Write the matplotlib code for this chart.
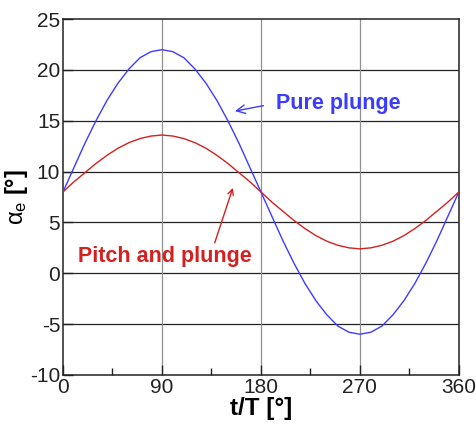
import numpy as np
import matplotlib.pyplot as plt
from matplotlib.ticker import MultipleLocator

plt.rcParams['font.family'] = ['Liberation Sans', 'DejaVu Sans']
plt.rcParams['mathtext.fontset'] = 'custom'
plt.rcParams['mathtext.rm'] = 'Liberation Sans'
plt.rcParams['mathtext.it'] = 'Liberation Sans'
plt.rcParams['axes.unicode_minus'] = False

# phase angle t/T in degrees
phase = list(range(0, 361, 10))

# effective angle of attack, pure plunge
alpha_plunge = [8.0, 10.4, 12.8, 15.0, 17.0, 18.7, 20.1, 21.2, 21.8, 22.0,
                21.8, 21.2, 20.1, 18.7, 17.0, 15.0, 12.8, 10.4, 8.0,
                5.6, 3.2, 1.0, -1.0, -2.7, -4.1, -5.2, -5.8, -6.0,
                -5.8, -5.2, -4.1, -2.7, -1.0, 1.0, 3.2, 5.6, 8.0]

# effective angle of attack, pitch and plunge
alpha_pitch = [8.0, 9.0, 9.9, 10.8, 11.6, 12.3, 12.85, 13.25, 13.5, 13.6,
               13.5, 13.25, 12.85, 12.3, 11.6, 10.8, 9.9, 9.0, 8.0,
               7.0, 6.1, 5.2, 4.4, 3.7, 3.15, 2.75, 2.5, 2.4,
               2.5, 2.75, 3.15, 3.7, 4.4, 5.2, 6.1, 7.0, 8.0]

blue = '#3c3cff'
red = '#d42020'

fig = plt.figure(figsize=(4.77, 4.26), dpi=100)
ax = fig.add_axes([0.132, 0.12, 0.830, 0.835])

for y in range(-5, 25, 5):
    ax.axhline(y, color='#222222', lw=0.9, zorder=1)
for x in [90, 180, 270]:
    ax.axvline(x, color='#909090', lw=0.9, zorder=1)

ax.plot(phase, alpha_plunge, color=blue, lw=1.0, zorder=3)
ax.plot(phase, alpha_pitch, color=red, lw=1.0, zorder=3)

ax.set_xlim(0, 360)
ax.set_ylim(-10, 25)
ax.xaxis.set_major_locator(MultipleLocator(90))
ax.xaxis.set_minor_locator(MultipleLocator(45))
ax.yaxis.set_major_locator(MultipleLocator(5))
ax.tick_params(which='both', direction='in', labelsize=15, colors='#222222')
ax.tick_params(which='major', length=7, width=1)
ax.tick_params(which='minor', length=5, width=1)
ax.tick_params(axis='x', pad=2)
ax.tick_params(axis='y', pad=2)
for s in ax.spines.values():
    s.set_linewidth(1.1)
    s.set_color('#222222')

ax.set_xlabel('t/T [°]', fontsize=17.5, fontweight='bold', labelpad=0)
ax.set_ylabel(r'$\alpha_e$ [°]', fontsize=17, fontweight='bold', labelpad=0)

ax.annotate('Pure plunge', xy=(156.4, 15.95), xytext=(193.6, 16.7),
            color=blue, fontsize=15.5, fontweight='bold', va='center',
            arrowprops=dict(arrowstyle='->', color=blue, lw=1.0,
                            shrinkA=0, shrinkB=0, relpos=(-0.1, 0.4)))
ax.annotate('', xy=(154.5, 8.4), xytext=(138, 3.0),
            arrowprops=dict(arrowstyle='->', color=red, lw=1.0,
                            shrinkA=0, shrinkB=0))
ax.text(92.7, 1.6, 'Pitch and plunge', color=red, fontsize=15.5,
        fontweight='bold', va='center', ha='center')

fig.savefig('out.png', dpi=100)
